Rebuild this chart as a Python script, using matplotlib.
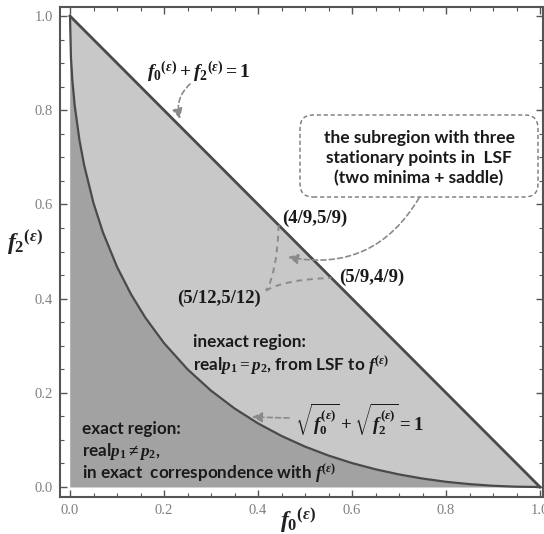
import matplotlib
matplotlib.use("Agg")
import matplotlib.pyplot as plt
from matplotlib.ticker import MultipleLocator
from matplotlib.patches import FancyBboxPatch

plt.rcParams['mathtext.fontset'] = 'custom'
plt.rcParams['mathtext.rm'] = 'Liberation Serif:bold'
plt.rcParams['mathtext.it'] = 'Liberation Serif:italic:bold'
plt.rcParams['mathtext.bf'] = 'Liberation Serif:bold'

# ---- data ----
triangle_f0 = [0.0, 1.0, 0.0]
triangle_f2 = [0.0, 0.0, 1.0]

curve_f0 = [0.0, 0.002, 0.005, 0.01, 0.02, 0.03, 0.05, 0.07, 0.1, 0.13, 0.16, 0.2,
            0.25, 0.3, 0.35, 0.4, 0.45, 0.5, 0.55, 0.6, 0.65, 0.7, 0.75, 0.8,
            0.85, 0.9, 0.95, 1.0]
curve_f2 = [1.0, 0.9126, 0.8636, 0.81, 0.7372, 0.6836, 0.6028, 0.5408, 0.4675,
            0.4089, 0.36, 0.3056, 0.25, 0.2046, 0.1668, 0.1351, 0.1084, 0.0858,
            0.0668, 0.0508, 0.0376, 0.0267, 0.0179, 0.0111, 0.0061, 0.0026,
            0.0006, 0.0]

subA_f0 = [0.444, 0.442, 0.438, 0.432, 0.425, 0.417]
subA_f2 = [0.556, 0.52, 0.485, 0.455, 0.432, 0.417]
subB_f0 = [0.417, 0.432, 0.455, 0.485, 0.52, 0.556]
subB_f2 = [0.417, 0.425, 0.432, 0.438, 0.442, 0.444]

ticks = [0.0, 0.2, 0.4, 0.6, 0.8, 1.0]
tick_labels = ["0.0", "0.2", "0.4", "0.6", "0.8", "1.0"]

LIGHT = "#c8c8c8"
DARK = "#a2a2a2"
LINE = "#4a4a4a"
DASH = "#8a8a8a"

W, H = 544, 534
fig = plt.figure(figsize=(W / 100, H / 100), dpi=100)
ax = fig.add_axes([60 / W, 37 / H, 483 / W, 490 / H])

x0px, sx = 70.0, 470.0
y0px, sy = 487.0, 471.0
ax.set_xlim((60 - x0px) / sx, (543 - x0px) / sx)
ax.set_ylim((y0px - 497) / sy, (y0px - 7) / sy)

def d(px, py):
    return ((px - x0px) / sx, (y0px - py) / sy)

# regions
ax.fill(triangle_f0, triangle_f2, color=LIGHT, lw=0, zorder=1)
ax.fill_between(curve_f0, 0, curve_f2, color=DARK, lw=0, zorder=2)
ax.plot([0, 1], [1, 0], color=LINE, lw=2.0, zorder=4)
ax.plot(curve_f0, curve_f2, color=LINE, lw=1.6, zorder=4)

# subregion boundaries
ax.plot(subA_f0, subA_f2, color=DASH, lw=1.4, ls=(0, (3, 2.5)), zorder=5)
ax.plot(subB_f0, subB_f2, color=DASH, lw=1.4, ls=(0, (3, 2.5)), zorder=5)

# axes styling
for s in ax.spines.values():
    s.set_color("#555555")
    s.set_linewidth(1.5)
ax.xaxis.set_minor_locator(MultipleLocator(0.05))
ax.yaxis.set_minor_locator(MultipleLocator(0.05))
ax.set_xticks(ticks)
ax.set_xticklabels(tick_labels)
ax.set_yticks(ticks)
ax.set_yticklabels(tick_labels)
ax.tick_params(which='both', direction='in', top=True, right=True,
               color="#555555", labelcolor="#808080")
ax.tick_params(which='major', length=5, width=1.0, labelsize=10.5, pad=5)
ax.tick_params(which='minor', length=3, width=0.8)
for lab in ax.get_xticklabels() + ax.get_yticklabels():
    lab.set_family("Liberation Serif")

# axis labels
fig.text(25 / W, 1 - 243 / H, r"$f_2{}^{(\epsilon)}$", fontsize=17,
         ha='center', va='center', color="#222222")
fig.text(298 / W, 1 - 521 / H, r"$f_0{}^{(\epsilon)}$", fontsize=17,
         ha='center', va='center', color="#222222")

TXT = "#1a1a1a"
sans = dict(family="Lato", fontweight="bold", color=TXT)
AP = dict(arrowstyle="-|>,head_length=0.6,head_width=0.3", color=DASH, lw=1.2,
          ls=(0, (3, 2)), shrinkA=0, shrinkB=0)

# line label + arrow
ax.text(*d(147, 72), r"$f_0{}^{(\epsilon)}+f_2{}^{(\epsilon)}=1$", fontsize=14,
        ha='left', va='center', color=TXT, zorder=6)
ax.annotate("", xy=d(180, 119), xytext=d(190, 84),
            arrowprops=dict(AP, connectionstyle="arc3,rad=0.3"), zorder=6)

# points
pt = dict(fontsize=13.5, family="Liberation Serif", fontweight="bold",
          va='center', color=TXT, zorder=6)
ax.text(*d(282, 218), "(4/9,5/9)", ha='left', **pt)
ax.text(*d(339, 277), "(5/9,4/9)", ha='left', **pt)
ax.text(*d(261, 298), "(5/12,5/12)", ha='right', **pt)

# box
bx0, by0 = d(300, 197)
bx1, by1 = d(538, 115)
ax.add_patch(FancyBboxPatch((bx0, by0), bx1 - bx0, by1 - by0,
                            boxstyle="round,pad=0,rounding_size=0.028",
                            fc="white", ec="#777777", lw=1.0, ls=(0, (3, 2)),
                            zorder=7))
ax.text(*d(419, 158), "the subregion with three\nstationary points in  LSF\n(two minima + saddle)",
        fontsize=12.5, ha='center', va='center', linespacing=1.3, zorder=8, **sans)
ax.annotate("", xy=d(288, 257), xytext=d(419, 198),
            arrowprops=dict(AP, connectionstyle="arc3,rad=-0.35"), zorder=6)

# inexact region
ax.text(*d(193, 342), "inexact region:", fontsize=12.3, ha='left', va='center',
        zorder=6, **sans)
ax.text(*d(193, 366), r"real$p_1=p_2$, from LSF to $f^{(\epsilon)}$", fontsize=12.3,
        ha='left', va='center', zorder=6, **sans)

# curve label
ax.text(*d(295, 420), r"$\sqrt{f_0^{(\epsilon)}}+\sqrt{f_2^{(\epsilon)}}=1$", fontsize=13.5,
        ha='left', va='center', color=TXT, zorder=6)
ax.annotate("", xy=d(252, 417), xytext=d(289, 418),
            arrowprops=AP, zorder=6)

# exact region
ax.text(*d(82, 429), "exact region:", fontsize=12.3, ha='left', va='center',
        zorder=6, **sans)
ax.text(*d(82, 452), r"real$p_1\neq p_2$,", fontsize=12.3, ha='left', va='center',
        zorder=6, **sans)
ax.text(*d(82, 474), r"in exact  correspondence with $f^{(\epsilon)}$", fontsize=12.3,
        ha='left', va='center', zorder=6, **sans)

fig.savefig("out.png", dpi=100, facecolor="white")
